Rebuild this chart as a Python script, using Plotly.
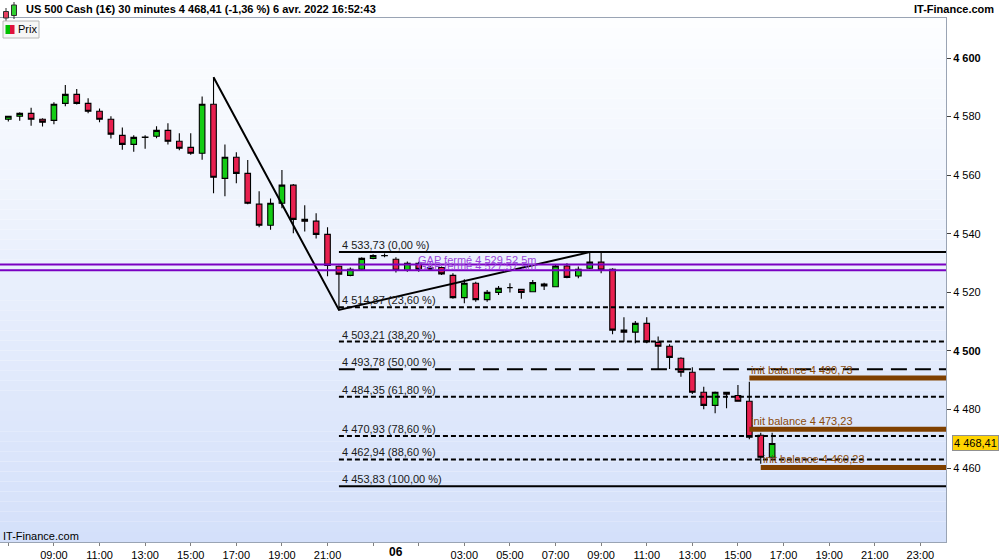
import plotly.graph_objects as go

# ---------------- data ----------------
# half-hour slots counted from 5 avr. 07:00
slot_idx = list(range(68))
opens = [4579.1, 4580.1, 4581.1, 4579.1, 4578.7, 4584.5, 4587.6, 4584.5, 4581.8, 4579.1,
         4573.6, 4570.5, 4572.9, 4573.3, 4575.3, 4571.6, 4569.5, 4567.5, 4584.2, 4558.9,
         4566.1, 4560.6, 4550.1, 4542.9, 4550.4, 4556.6, 4544.9, 4544.3, 4539.8, 4528.9,
         4525.8, 4527.9, 4531.6, 4532.6, 4531.3, 4527.5, 4529.9, 4527.9, 4528.5, 4525.8,
         4518.2, 4523.1, 4517.5, 4520.0, 4521.6, 4521.0, 4520.2, 4522.8, 4521.9, 4529.0,
         4525.6, 4528.2, 4530.3, 4527.9, 4507.1, 4506.4, 4509.4, 4502.9, 4501.6, 4497.5,
         4492.7, 4485.9, 4481.4, 4485.9, 4484.8, 4482.8, 4471.2, 4463.7]
highs = [4580.1, 4581.5, 4583.0, 4579.4, 4584.9, 4590.8, 4589.4, 4586.3, 4582.8, 4580.1,
         4576.3, 4573.6, 4573.6, 4576.7, 4577.7, 4574.3, 4574.3, 4586.9, 4593.4, 4570.5,
         4567.8, 4565.2, 4554.5, 4552.0, 4561.8, 4557.0, 4549.7, 4547.0, 4542.2, 4529.2,
         4528.5, 4532.0, 4533.0, 4533.3, 4532.0, 4530.5, 4530.4, 4529.0, 4528.8, 4526.5,
         4524.5, 4523.6, 4520.8, 4522.2, 4523.1, 4521.1, 4524.2, 4523.3, 4529.3, 4529.9,
         4528.8, 4533.73, 4533.5, 4528.2, 4511.5, 4510.2, 4511.5, 4504.9, 4502.3, 4497.8,
         4494.4, 4487.8, 4486.1, 4486.0, 4488.4, 4489.5, 4472.1, 4472.1]
lows = [4578.3, 4578.6, 4576.9, 4576.6, 4577.4, 4583.5, 4584.1, 4581.1, 4578.1, 4572.5,
        4568.7, 4568.0, 4569.0, 4572.6, 4570.5, 4568.5, 4567.0, 4565.3, 4553.8, 4552.8,
        4557.2, 4550.1, 4542.2, 4541.4, 4548.7, 4540.2, 4540.8, 4538.4, 4525.5, 4514.0,
        4525.5, 4527.5, 4531.3, 4532.0, 4526.8, 4527.0, 4527.0, 4527.5, 4525.9, 4517.8,
        4516.3, 4516.8, 4516.8, 4519.1, 4519.9, 4517.8, 4520.0, 4520.8, 4521.9, 4524.8,
        4524.8, 4528.0, 4526.5, 4505.7, 4503.1, 4502.6, 4502.6, 4493.8, 4493.8, 4491.2,
        4485.3, 4480.1, 4478.7, 4480.4, 4482.7, 4469.8, 4461.5, 4463.5]
closes = [4580.1, 4581.1, 4579.1, 4578.1, 4584.2, 4587.6, 4584.5, 4581.8, 4579.1, 4574.0,
          4570.5, 4572.9, 4573.0, 4575.3, 4571.6, 4569.2, 4567.5, 4584.2, 4559.3, 4566.1,
          4560.6, 4550.4, 4542.9, 4550.4, 4556.6, 4544.9, 4544.3, 4539.8, 4529.2, 4526.2,
          4527.9, 4531.6, 4532.6, 4532.5, 4527.5, 4529.9, 4527.9, 4528.5, 4526.3, 4518.2,
          4523.1, 4517.5, 4520.0, 4521.4, 4521.6, 4520.0, 4523.3, 4522.2, 4529.0, 4525.1,
          4527.9, 4530.3, 4527.6, 4507.1, 4506.4, 4509.4, 4503.1, 4501.6, 4497.8, 4492.7,
          4485.9, 4481.4, 4485.9, 4485.2, 4482.8, 4470.5, 4463.7, 4468.41]

x_tick_idx = [0, 4, 8, 12, 16, 20, 24, 28, 32, 36, 40, 44, 48, 52, 56, 60, 64, 68, 72, 76, 80]
x_tick_labels = ["", "09:00", "11:00", "13:00", "15:00", "17:00", "19:00", "21:00", "", "",
                 "03:00", "05:00", "07:00", "09:00", "11:00", "13:00", "15:00", "17:00",
                 "19:00", "21:00", "23:00"]
day_label = "06"
day_label_idx = 34

y_tick_vals = [4460, 4480, 4500, 4520, 4540, 4560, 4580, 4600]
y_tick_labels = ["4 460", "4 480", "<b>4 500</b>", "4 520", "4 540", "4 560", "4 580", "<b>4 600</b>"]

fib_start_idx = 29
fib_levels = [4533.73, 4514.87, 4503.21, 4493.78, 4484.35, 4470.93, 4462.94, 4453.83]
fib_pcts = ["0,00", "23,60", "38,20", "50,00", "61,80", "78,60", "88,60", "100,00"]

gap_levels = [4529.52, 4527.57]
gap_labels = ["GAP fermé 4 529,52 5m", "GAP fermé 4 527,57 5m"]
gap_label_idx = 35.8

ib_levels = [4490.73, 4473.23, 4460.23]
ib_start_idx = [65, 65, 66]

pattern_idx = [18, 29, 51]
pattern_price = [4593.4, 4514.0, 4533.73]

last_price = 4468.41
title_text = "US 500 Cash (1€) 30 minutes 4 468,41 (-1,36 %) 6 avr. 2022 16:52:43"

# ---------------- layout helpers ----------------
W, H = 1000, 560
PL, PR, PT, PB = 0, 946, 18, 542
FONT = "Liberation Sans, Arial, sans-serif"


def px_x(px):
    return (px - PL) / (PR - PL)


def px_y(py):
    return (PB - py) / (PB - PT)


def fr(v):
    s = f"{v:,.2f}"
    return s.replace(",", " ").replace(".", ",")


fig = go.Figure()

fig.add_trace(go.Candlestick(
    x=slot_idx, open=opens, high=highs, low=lows, close=closes,
    increasing=dict(fillcolor="#14cc14", line=dict(color="#000000", width=1.1)),
    decreasing=dict(fillcolor="#e8204f", line=dict(color="#000000", width=1.1)),
    whiskerwidth=0, hoverinfo="skip", showlegend=False,
))

fig.add_trace(go.Scatter(
    x=pattern_idx, y=pattern_price, mode="lines",
    line=dict(color="#000000", width=2), hoverinfo="skip", showlegend=False,
))

shapes = []
# gradient background of the plot area
N = 52
top_c = (253, 254, 255)
bot_c = (212, 224, 250)
for k in range(N):
    t = (k + 0.5) / N  # 0 bottom -> 1 top
    c = tuple(int(round(bot_c[j] + (top_c[j] - bot_c[j]) * t)) for j in range(3))
    shapes.append(dict(type="rect", xref="paper", yref="paper", x0=0, x1=1,
                       y0=k / N, y1=(k + 1) / N, fillcolor="rgb(%d,%d,%d)" % c,
                       line=dict(width=0), layer="below"))

# gap lines
for lv in gap_levels:
    shapes.append(dict(type="line", xref="paper", yref="y", x0=0, x1=1, y0=lv, y1=lv,
                       line=dict(color="#7a00c2", width=2)))

# fibonacci lines
for lv, pc in zip(fib_levels, fib_pcts):
    if pc in ("0,00", "100,00"):
        dash = "solid"
    elif pc == "50,00":
        dash = "16px,8px"
    else:
        dash = "5px,3px"
    shapes.append(dict(type="line", xref="x", yref="y", x0=fib_start_idx, x1=83,
                       y0=lv, y1=lv, line=dict(color="#000000", width=2, dash=dash)))

# init balance lines
for lv, st in zip(ib_levels, ib_start_idx):
    shapes.append(dict(type="line", xref="x", yref="y", x0=st, x1=83, y0=lv, y1=lv,
                       line=dict(color="#7f4000", width=5)))


# header icon (decorative)
def rect_px(x0, y0, x1, y1, fill, line="#303030", lw=1):
    return dict(type="rect", xref="paper", yref="paper", x0=px_x(x0), x1=px_x(x1),
                y0=px_y(y1), y1=px_y(y0), fillcolor=fill, line=dict(color=line, width=lw))


def vline_px(x, y0, y1, color="#303030"):
    return dict(type="line", xref="paper", yref="paper", x0=px_x(x), x1=px_x(x),
                y0=px_y(y1), y1=px_y(y0), line=dict(color=color, width=1))


shapes += [
    vline_px(6, 8, 21), rect_px(3.5, 11.5, 8.5, 18, "#e84060"),
    vline_px(14, 2, 19), rect_px(11.5, 5, 16.5, 15.5, "#30d030"),
    rect_px(3, 21, 39, 38, "#f6f6f6", "#b8b8b8"),
    rect_px(5.5, 25, 10, 34, "#00c000", "#00c000", 0),
    rect_px(10, 25, 14.5, 34, "#e0103c", "#e0103c", 0),
]

annotations = []
for lv, pc in zip(fib_levels, fib_pcts):
    annotations.append(dict(x=fib_start_idx, y=lv, xref="x", yref="y", xanchor="left",
                            yanchor="bottom", xshift=1, yshift=-1, showarrow=False,
                            text=f"{fr(lv)} ({pc} %)",
                            font=dict(family=FONT, size=11, color="#1a1a1a")))
for lv, lab in zip(gap_levels, gap_labels):
    annotations.append(dict(x=gap_label_idx, y=lv, xref="x", yref="y", xanchor="left",
                            yanchor="bottom", yshift=-4, showarrow=False, text=lab,
                            font=dict(family=FONT, size=11, color="#9a46dc")))
for lv, st in zip(ib_levels, ib_start_idx):
    annotations.append(dict(x=st, y=lv, xref="x", yref="y", xanchor="left",
                            yanchor="bottom", xshift=0, yshift=0, showarrow=False,
                            text=f"init balance {fr(lv)}",
                            font=dict(family=FONT, size=11, color="#8a4a0a")))

annotations += [
    dict(x=px_x(24), y=px_y(9), xref="paper", yref="paper", xanchor="left", yanchor="middle",
         showarrow=False, text="<b>" + title_text + "</b>",
         font=dict(family=FONT, size=11, color="#000000")),
    dict(x=px_x(996), y=px_y(9), xref="paper", yref="paper", xanchor="right", yanchor="middle",
         showarrow=False, text="<b>IT-Finance.com</b>",
         font=dict(family=FONT, size=11, color="#000000")),
    dict(x=px_x(16), y=px_y(29.5), xref="paper", yref="paper", xanchor="left", yanchor="middle",
         showarrow=False, text="Prix", font=dict(family=FONT, size=11, color="#000000")),
    dict(x=px_x(1), y=px_y(536), xref="paper", yref="paper", xanchor="left", yanchor="middle",
         showarrow=False, text="IT-Finance.com", font=dict(family=FONT, size=11, color="#000000")),
    dict(x=day_label_idx, y=px_y(552), xref="x", yref="paper", xanchor="center", yanchor="middle",
         showarrow=False, text="<b>" + day_label + "</b>",
         font=dict(family=FONT, size=12, color="#000000")),
    dict(x=px_x(952), y=last_price, xref="paper", yref="y", xanchor="left", yanchor="middle",
         showarrow=False, text=fr(last_price), bgcolor="#ffd400", bordercolor="#909090",
         borderwidth=1, borderpad=1, font=dict(family=FONT, size=11, color="#000000")),
]

fig.update_layout(
    width=W, height=H,
    margin=dict(l=PL, r=W - PR, t=PT, b=H - PB, pad=0),
    paper_bgcolor="#ffffff", plot_bgcolor="#ffffff",
    showlegend=False, shapes=shapes, annotations=annotations,
    boxgap=0.3,
    xaxis=dict(range=[-0.73, 82.25], rangeslider=dict(visible=False), showgrid=False,
               zeroline=False, tickmode="array", tickvals=x_tick_idx, ticktext=x_tick_labels,
               ticks="outside", ticklen=3, tickcolor="#808080",
               tickfont=dict(family=FONT, size=11, color="#000000"),
               showline=True, linecolor="#9aa4b4", linewidth=1, mirror=True),
    yaxis=dict(range=[4434.76, 4613.66], side="right", showgrid=False, zeroline=False,
               tickmode="array", tickvals=y_tick_vals, ticktext=y_tick_labels,
               ticks="outside", ticklen=4, tickcolor="#404040",
               tickfont=dict(family=FONT, size=11, color="#000000"),
               showline=True, linecolor="#9aa4b4", linewidth=1, mirror=True),
)

fig.write_html("out.html", config={"displayModeBar": False},
               post_script="document.body.style.margin='0';")
